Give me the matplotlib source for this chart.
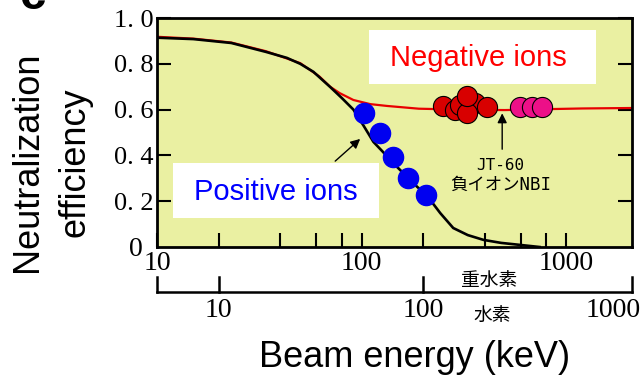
import matplotlib
matplotlib.use('Agg')
import matplotlib.pyplot as plt
from matplotlib.patches import Rectangle
from matplotlib.ticker import FixedLocator, NullFormatter
import matplotlib.transforms as mtransforms

# positive ion neutralization curve (black)
black_E = [10, 15, 23, 34, 43, 50, 58, 65, 70, 80, 91, 102, 114, 127, 149, 187,
           206, 242, 280, 330, 394, 480, 597, 741]
black_eff = [0.914, 0.908, 0.891, 0.852, 0.826, 0.800, 0.765, 0.725, 0.699, 0.65,
             0.60, 0.53, 0.459, 0.415, 0.349, 0.262, 0.23, 0.148, 0.083, 0.052,
             0.031, 0.018, 0.009, 0.0]

# negative ion neutralization curve (red)
red_E = [10, 15, 23, 34, 50, 62, 70, 78, 91, 110, 133, 190, 300, 500, 800, 1200, 2085]
red_eff = [0.918, 0.91, 0.893, 0.855, 0.803, 0.745, 0.70, 0.672, 0.642, 0.624,
           0.616, 0.604, 0.600, 0.598, 0.602, 0.605, 0.607]

# measured points
pos_E = [102, 123, 142, 169, 206]
pos_eff = [0.585, 0.498, 0.393, 0.301, 0.227]
neg_E = [250, 287, 303, 359, 411, 328, 328]
neg_eff = [0.616, 0.598, 0.62, 0.629, 0.611, 0.585, 0.659]
jt_E = [596, 683, 764]
jt_eff = [0.611, 0.611, 0.611]

yticks = [0.2, 0.4, 0.6, 0.8, 1.0]
ytick_labels = ['0. 2', '0. 4', '0. 6', '0. 8', '1. 0']
xmajor = [10, 100, 1000]
xminor = [20, 40, 60, 80, 200, 400, 600, 800]
h_ticks = [10, 100, 1000]   # hydrogen energy scale (deuterium / 2)

serif = 'Liberation Serif'
sans = 'Liberation Sans'
jp = ['Noto Sans CJK JP', 'DejaVu Sans']
jp_mono = ['DejaVu Sans Mono', 'Noto Sans CJK JP']

fig = plt.figure(figsize=(6.44, 3.77), dpi=100)
ax = fig.add_axes([0.2443, 0.3448, 0.7363, 0.6074])
ax.set_facecolor('#EAF0A2')

ax.plot(red_E, red_eff, color='#E80000', lw=1.6, zorder=2)
ax.plot(black_E, black_eff, color='black', lw=1.9, zorder=3)
ax.plot(pos_E, pos_eff, 'o', ms=14.5, color='#0000F0', mec='#0000F0', zorder=4)
ax.plot(neg_E, neg_eff, 'o', ms=14.5, color='#D80000', mec='black', mew=0.8, zorder=4)
ax.plot(jt_E, jt_eff, 'o', ms=14.5, color='#EC1088', mec='black', mew=0.8, zorder=4)

ax.set_xscale('log')
ax.set_xlim(10, 2085)
ax.set_ylim(0, 1)

ax.xaxis.set_major_locator(FixedLocator(xmajor))
ax.xaxis.set_minor_locator(FixedLocator(xminor))
ax.xaxis.set_minor_formatter(NullFormatter())
ax.set_xticklabels([str(v) for v in xmajor], fontfamily=serif, fontsize=20)
ax.set_yticks(yticks)
ax.set_yticklabels(ytick_labels, fontfamily=serif, fontsize=19)
ax.tick_params(axis='x', which='both', direction='in', length=10, width=1.5,
               top=False, pad=3)
ax.tick_params(axis='y', which='both', direction='in', length=10, width=1.5,
               right=True, pad=3)
for s in ax.spines.values():
    s.set_linewidth(2.0)
fig.text(136 / 644, 1 - 250 / 377, '0', fontfamily=serif, fontsize=20,
         ha='center', va='center')

# labelled boxes
ax.add_patch(Rectangle((0.447, 0.712), 0.479, 0.236, transform=ax.transAxes,
                       facecolor='white', edgecolor='none', zorder=5))
ax.text(0.677, 0.825, 'Negative ions', transform=ax.transAxes, color='#FF0000',
        fontfamily=sans, fontsize=21, ha='center', va='center', zorder=6)
ax.add_patch(Rectangle((0.033, 0.127), 0.435, 0.240, transform=ax.transAxes,
                       facecolor='white', edgecolor='none', zorder=5))
ax.text(0.249, 0.240, 'Positive ions', transform=ax.transAxes, color='#0000FF',
        fontfamily=sans, fontsize=21, ha='center', va='center', zorder=6)

# arrows
ax.annotate('', xy=(100.5, 0.48), xytext=(72.4, 0.367),
            arrowprops=dict(arrowstyle='-|>', color='black', lw=1.0,
                            mutation_scale=14), zorder=6)
ax.annotate('', xy=(486, 0.596), xytext=(486, 0.415),
            arrowprops=dict(arrowstyle='-|>', color='black', lw=1.0,
                            mutation_scale=14), zorder=6)
ax.text(475, 0.356, 'JT-60', fontfamily=jp_mono, fontsize=11.5, ha='center', va='center')
ax.text(475, 0.272, '負イオンNBI', fontfamily=jp_mono, fontsize=12.5, ha='center', va='center')

# hydrogen energy scale below the axis
tr = mtransforms.blended_transform_factory(ax.transData, ax.transAxes)
ax.plot([10, 2085], [-0.1965, -0.1965], color='black', lw=1.8, transform=tr,
        clip_on=False)
for xe in [10, 2 * h_ticks[0], 2 * h_ticks[1], 2085]:
    ax.plot([xe, xe], [-0.1965, -0.131], color='black', lw=1.8, transform=tr,
            clip_on=False)
ax.text(2 * h_ticks[0], -0.279, str(h_ticks[0]), transform=tr, fontfamily=serif,
        fontsize=20, ha='center', va='center')
ax.text(2 * h_ticks[1], -0.279, str(h_ticks[1]), transform=tr, fontfamily=serif,
        fontsize=20, ha='center', va='center')
ax.text(1700, -0.279, str(h_ticks[2]), transform=tr, fontfamily=serif,
        fontsize=20, ha='center', va='center')
ax.text(421, -0.144, '重水素', transform=tr, fontfamily=jp, fontsize=13.5,
        ha='center', va='center')
ax.text(435, -0.301, '水素', transform=tr, fontfamily=jp, fontsize=13.5,
        ha='center', va='center')

# axis titles
fig.text(27 / 644, 0.570, 'Neutralization', rotation=90, fontfamily=sans,
         fontsize=26, ha='center', va='center')
fig.text(75 / 644, 0.570, 'efficiency', rotation=90, fontfamily=sans,
         fontsize=26, ha='center', va='center')
fig.text(0.644, 0.053, 'Beam energy (keV)', fontfamily=sans, fontsize=26,
         ha='center', va='center')
fig.text(0.05, 1 - 9 / 377, 'c', fontfamily=sans, fontsize=34, fontweight='bold',
         ha='center', va='baseline')

fig.savefig('out.png', dpi=100)
